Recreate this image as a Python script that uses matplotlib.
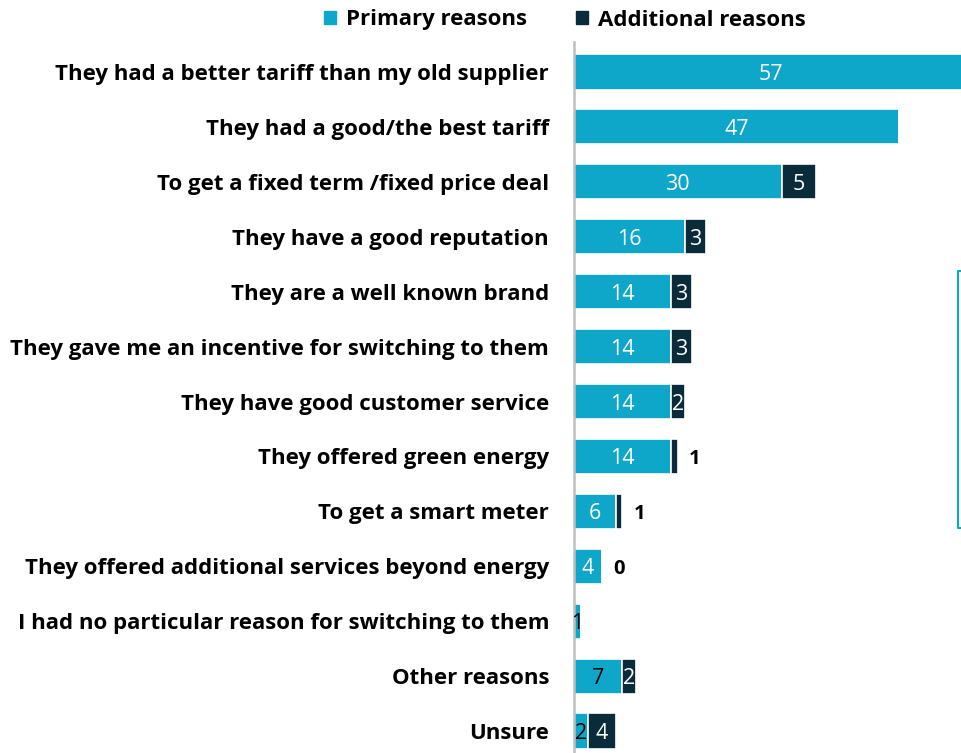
import matplotlib.pyplot as plt
from matplotlib.lines import Line2D
from matplotlib.patches import Patch

plt.rcParams['font.family'] = ['Open Sans', 'DejaVu Sans']

reasons = [
    "They had a better tariff than my old supplier",
    "They had a good/the best tariff",
    "To get a fixed term /fixed price deal",
    "They have a good reputation",
    "They are a well known brand",
    "They gave me an incentive for switching to them",
    "They have good customer service",
    "They offered green energy",
    "To get a smart meter",
    "They offered additional services beyond energy",
    "I had no particular reason for switching to them",
    "Other reasons",
    "Unsure",
]
primary = [57, 47, 30, 16, 14, 14, 14, 14, 6, 4, 1, 7, 2]
additional = [0, 0, 5, 3, 3, 3, 2, 1, 1, 0, 0, 2, 4]

# how each value label is shown: 'in' = white inside, 'dark' = black inside,
# 'out' = bold black after the bar, None = no label
primary_lbl = ['in'] * 10 + ['dark', 'dark', 'dark']
additional_lbl = [None, None, 'in', 'in', 'in', 'in', 'in', 'out', 'out', 'out', None, 'in', 'in']

c_primary = '#0EA7C9'
c_additional = '#0A2B3A'

fig = plt.figure(figsize=(9.61, 7.53), dpi=100)
ax = fig.add_axes([574 / 961, 0, 1 - 574 / 961, (753 - 42) / 753])

y = list(range(len(reasons)))
ax.barh(y, primary, height=0.64, color=c_primary, edgecolor='white', linewidth=1.2)
ax.barh(y, additional, left=primary, height=0.64, color=c_additional,
        edgecolor='white', linewidth=1.2)

ax.set_xlim(0, 55.9)
ax.set_ylim(12.40, -0.546)

for i in y:
    p, a = primary[i], additional[i]
    if primary_lbl[i]:
        col = 'white' if primary_lbl[i] == 'in' else 'black'
        ax.text(p / 2, i, str(p), ha='center', va='center_baseline', color=col, fontsize=15.5)
    if additional_lbl[i] == 'in':
        ax.text(p + a / 2, i, str(a), ha='center', va='center_baseline', color='white',
                fontsize=15.5)
    elif additional_lbl[i] == 'out':
        ax.text(p + a + 1.6, i, str(a), ha='left', va='center_baseline', color='black',
                fontsize=14.5, fontweight='bold')

ax.set_yticks(y)
ax.set_yticklabels(reasons, fontsize=16, fontweight='bold')
ax.tick_params(axis='y', length=0, pad=18)
ax.set_xticks([])
for side in ['top', 'right', 'bottom']:
    ax.spines[side].set_visible(False)
ax.spines['left'].set_color('#BFBFBF')
ax.spines['left'].set_linewidth(1.8)

handles = [Patch(color=c_primary, label='Primary reasons'),
           Patch(color=c_additional, label='Additional reasons')]
fig.legend(handles=handles, loc='center', bbox_to_anchor=(565 / 961, 1 - 20 / 753),
           ncol=2, frameon=False, handlelength=0.55, handleheight=0.55,
           handletextpad=0.45, columnspacing=2.2,
           prop={'size': 16, 'weight': 'bold'})

# bracket at the right edge
bx = 958 / 961
by0, by1 = 1 - 528 / 753, 1 - 271 / 753
fig.add_artist(Line2D([1.0, bx, bx, 1.0], [by0, by0, by1, by1],
                      color=c_primary, linewidth=1.5, transform=fig.transFigure))

fig.savefig('out.png', dpi=100)
